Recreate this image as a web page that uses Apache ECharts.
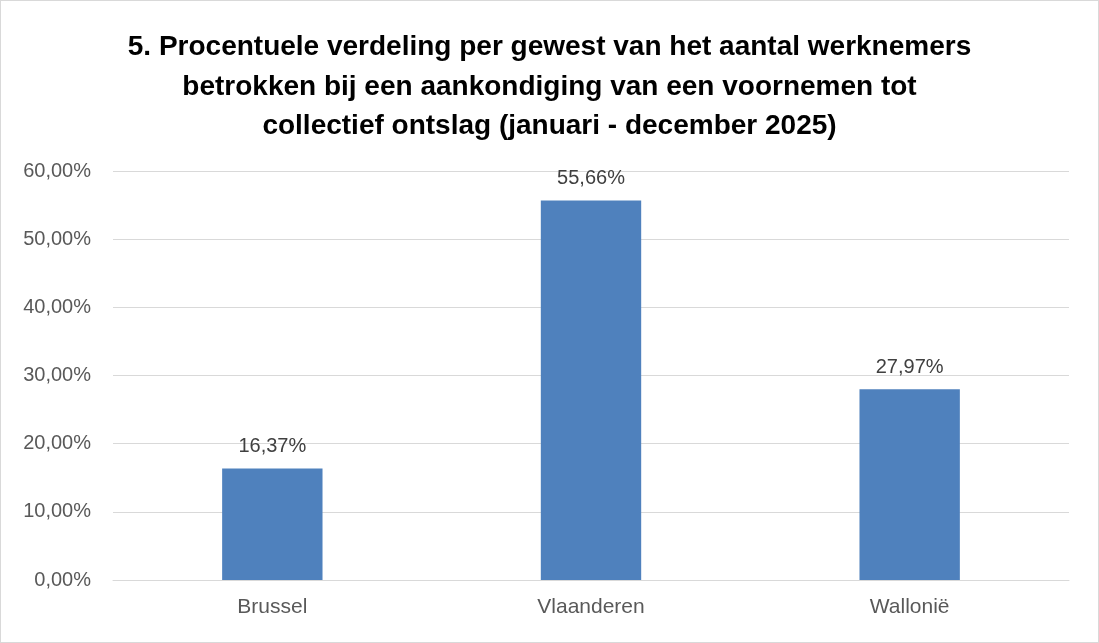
<!DOCTYPE html>
<html><head><meta charset="utf-8">
<script src="https://cdn.jsdelivr.net/npm/echarts@6/dist/echarts.min.js"></script>
<style>html,body{margin:0;padding:0;background:#fff}#c{width:1099px;height:643px;box-sizing:border-box;border:1px solid #d9d9d9}</style>
</head><body><div id="c"></div>
<script>
const categories = ['Brussel', 'Vlaanderen', 'Wallonië'];
const values = [16.37, 55.66, 27.97];
const titleText = '5. Procentuele verdeling per gewest van het aantal werknemers\nbetrokken bij een aankondiging van een voornemen tot\ncollectief ontslag (januari - december 2025)';
const fmt = v => v.toFixed(2).replace('.', ',') + '%';
const chart = echarts.init(document.getElementById('c'));
chart.setOption({
  animation: false,
  backgroundColor: '#fff',
  title: {
    text: titleText, left: 'center', top: 22,
    textStyle: { fontFamily: 'Liberation Sans', fontWeight: 'bold', fontSize: 28, color: '#000', lineHeight: 39.5 }
  },
  grid: { left: 112, right: 29, top: 170, bottom: 62, containLabel: false },
  xAxis: {
    type: 'category', data: categories,
    axisLine: { lineStyle: { color: '#d9d9d9' } },
    axisTick: { show: false },
    axisLabel: { color: '#595959', fontSize: 21, fontFamily: 'Liberation Sans', margin: 17 }
  },
  yAxis: {
    type: 'value', min: 0, max: 60, interval: 10,
    axisLine: { show: false }, axisTick: { show: false },
    splitLine: { lineStyle: { color: '#d9d9d9' } },
    axisLabel: { color: '#595959', fontSize: 20, fontFamily: 'Liberation Sans', margin: 22, formatter: v => fmt(v) }
  },
  series: [{
    type: 'bar', data: values, barWidth: '31.5%',
    itemStyle: { color: '#4f81bd' },
    label: { show: true, position: 'top', distance: 12, color: '#404040', fontSize: 20, fontFamily: 'Liberation Sans', formatter: p => fmt(p.value) }
  }]
});
</script></body></html>
